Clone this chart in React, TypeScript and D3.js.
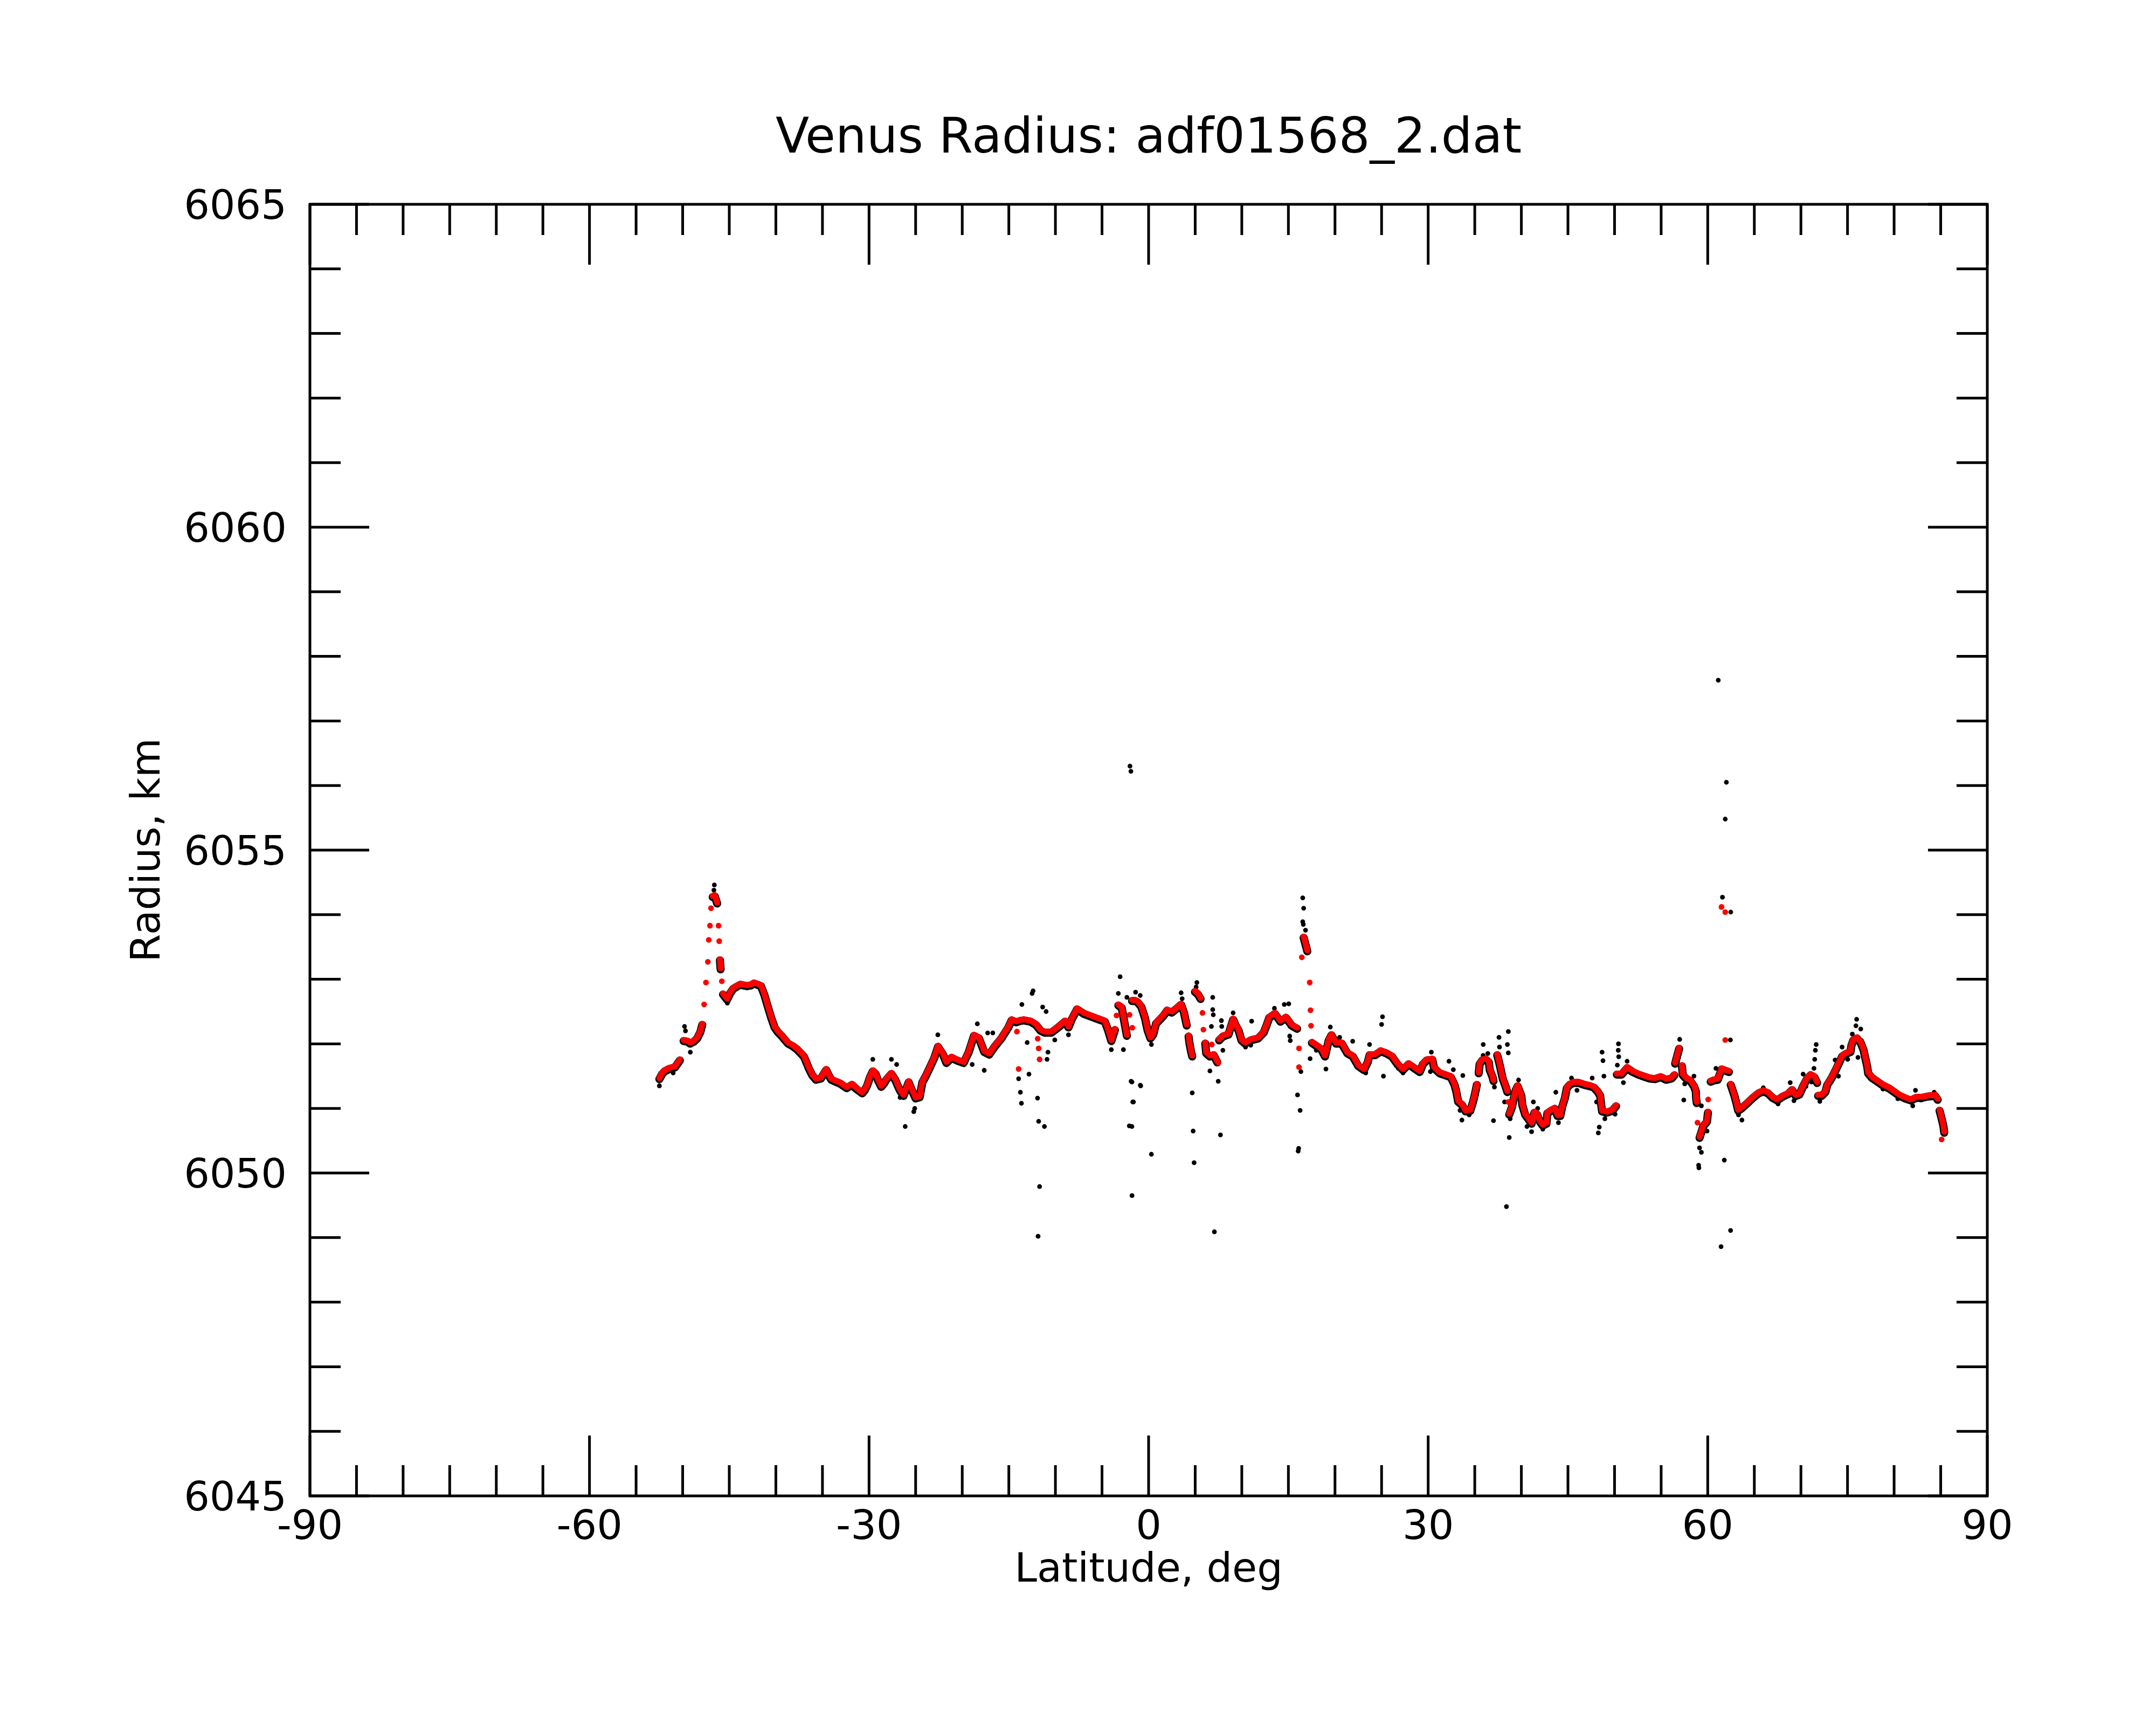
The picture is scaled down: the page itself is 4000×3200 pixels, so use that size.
import * as d3 from "d3";

// plot frame in page pixels
const W = 4000;
const H = 3200;
const M = { left: 575, right: 3687, top: 379, bottom: 2775 };

const title = "Venus Radius: adf01568_2.dat";
const xTitle = "Latitude, deg";
const yTitle = "Radius, km";
const xTickLabels = ["-90", "-60", "-30", "0", "30", "60", "90"];
const yTickLabels = ["6045", "6050", "6055", "6060", "6065"];

// smoothed radius (red), [latitude, radius km]
const smoothTrace: [number, number][] = [
  [-52.5, 6051.47], [-52.2, 6051.55], [-51.94, 6051.59], [-51.4, 6051.63], [-50.84, 6051.65],
  [-50.3, 6051.76], [-49.9, 6052.06], [-49.5, 6052.05], [-49.2, 6052.02], [-48.8, 6052.05],
  [-48.44, 6052.1], [-48.1, 6052.2], [-47.9, 6052.31], [-47.7, 6052.61], [-47.5, 6052.95],
  [-47.3, 6053.27], [-47.2, 6053.61], [-47.07, 6053.83], [-46.96, 6054.1], [-46.78, 6054.29],
  [-46.55, 6054.3], [-46.3, 6054.19], [-46.15, 6053.83], [-46.08, 6053.59], [-46.0, 6053.31],
  [-45.93, 6053.17], [-45.8, 6052.97], [-45.67, 6052.78], [-45.23, 6052.7], [-44.9, 6052.8],
  [-44.56, 6052.87], [-44.2, 6052.9], [-43.83, 6052.93], [-43.09, 6052.91], [-42.7, 6052.92],
  [-42.35, 6052.95], [-41.6, 6052.91], [-41.25, 6052.78], [-40.9, 6052.61], [-40.5, 6052.42],
  [-40.14, 6052.27], [-39.8, 6052.2], [-39.4, 6052.14], [-38.7, 6052.02], [-38.2, 6051.98],
  [-37.74, 6051.93], [-37.0, 6051.82], [-36.7, 6051.72], [-36.45, 6051.63], [-36.1, 6051.53],
  [-35.7, 6051.46], [-35.16, 6051.48], [-34.6, 6051.61], [-34.3, 6051.52], [-34.05, 6051.46],
  [-33.6, 6051.43], [-33.1, 6051.4], [-32.4, 6051.33], [-31.84, 6051.38], [-31.3, 6051.31],
  [-30.73, 6051.25], [-30.45, 6051.3], [-30.18, 6051.38], [-29.9, 6051.5], [-29.6, 6051.59],
  [-29.3, 6051.55], [-29.07, 6051.46], [-28.7, 6051.35], [-28.4, 6051.4], [-28.15, 6051.46],
  [-27.6, 6051.55], [-27.2, 6051.46], [-26.9, 6051.36], [-26.67, 6051.29], [-26.3, 6051.21],
  [-25.75, 6051.42], [-25.38, 6051.29], [-25.0, 6051.17], [-24.57, 6051.19], [-24.28, 6051.42],
  [-23.9, 6051.52], [-23.54, 6051.63], [-22.99, 6051.8], [-22.6, 6051.97], [-22.06, 6051.85],
  [-21.7, 6051.72], [-21.14, 6051.8], [-20.6, 6051.76], [-19.85, 6051.72], [-19.3, 6051.89],
  [-18.74, 6052.14], [-18.2, 6052.1], [-17.64, 6051.89], [-17.1, 6051.85], [-16.53, 6051.97],
  [-15.8, 6052.1], [-15.05, 6052.27], [-14.7, 6052.38], [-14.2, 6052.35], [-13.8, 6052.37],
  [-13.4, 6052.38], [-12.66, 6052.36], [-12.1, 6052.31], [-11.6, 6052.22], [-11.18, 6052.19],
  [-10.44, 6052.19], [-9.7, 6052.27], [-8.97, 6052.36], [-8.6, 6052.27], [-8.23, 6052.4],
  [-7.68, 6052.55], [-6.94, 6052.48], [-6.2, 6052.44], [-5.46, 6052.4], [-4.7, 6052.36],
  [-4.36, 6052.23], [-4.0, 6052.06], [-3.62, 6052.23], [-3.44, 6052.44], [-3.25, 6052.61],
  [-2.88, 6052.57], [-2.6, 6052.35], [-2.33, 6052.14], [-2.05, 6052.45], [-1.78, 6052.68],
  [-1.45, 6052.68], [-1.19, 6052.66], [-0.79, 6052.59], [-0.4, 6052.42], [-0.1, 6052.22],
  [0.2, 6052.1], [0.5, 6052.16], [0.8, 6052.33], [1.2, 6052.39], [1.6, 6052.45],
  [1.99, 6052.53], [2.49, 6052.5], [2.99, 6052.56], [3.49, 6052.62], [3.79, 6052.5],
  [4.09, 6052.3], [4.29, 6052.13], [4.39, 6052.02], [4.55, 6051.9], [4.68, 6051.82],
  [4.98, 6052.82], [5.3, 6052.78], [5.58, 6052.71], [5.78, 6052.48], [5.88, 6052.22],
  [6.08, 6052.02], [6.18, 6051.87], [6.58, 6051.82], [6.98, 6051.84], [7.37, 6051.73],
  [7.57, 6052.07], [7.97, 6052.13], [8.57, 6052.16], [9.07, 6052.39], [9.35, 6052.3],
  [9.66, 6052.22], [9.96, 6052.07], [10.36, 6052.02], [10.96, 6052.07], [11.76, 6052.1],
  [12.35, 6052.19], [12.65, 6052.3], [12.95, 6052.42], [13.55, 6052.48], [14.15, 6052.36],
  [14.74, 6052.42], [15.34, 6052.3], [15.94, 6052.25], [16.44, 6053.34], [16.64, 6053.66],
  [17.03, 6053.45], [17.29, 6052.95], [17.37, 6052.52], [17.43, 6052.28], [17.53, 6052.03],
  [17.93, 6051.99], [18.53, 6051.93], [18.93, 6051.82], [19.33, 6052.07], [19.62, 6052.15],
  [20.12, 6052.02], [20.72, 6052.02], [21.32, 6051.87], [21.91, 6051.82], [22.51, 6051.67],
  [23.11, 6051.61], [23.51, 6051.73], [23.71, 6051.84], [24.3, 6051.84], [24.9, 6051.9],
  [25.5, 6051.87], [26.1, 6051.82], [26.7, 6051.7], [27.29, 6051.61], [27.89, 6051.7],
  [28.49, 6051.64], [29.09, 6051.58], [29.44, 6051.7], [29.84, 6051.76], [30.44, 6051.77],
  [30.64, 6051.64], [31.23, 6051.56], [31.83, 6051.53], [32.43, 6051.5], [32.83, 6051.38],
  [33.03, 6051.27], [33.22, 6051.12], [33.62, 6051.07], [34.02, 6050.97], [34.52, 6050.98],
  [34.82, 6051.12], [35.02, 6051.24], [35.22, 6051.38], [35.42, 6051.56], [35.52, 6051.7],
  [35.81, 6051.76], [36.21, 6051.77], [36.51, 6051.73], [36.61, 6051.61], [36.91, 6051.5],
  [37.01, 6051.44], [37.41, 6051.84], [37.61, 6051.73], [38.01, 6051.47], [38.25, 6051.38],
  [38.5, 6051.27], [38.6, 6051.1], [38.7, 6050.92], [39.0, 6051.04], [39.2, 6051.18],
  [39.4, 6051.3], [39.6, 6051.36], [40.0, 6051.21], [40.1, 6051.07], [40.4, 6050.92],
  [40.8, 6050.84], [41.1, 6050.78], [41.4, 6050.95], [41.69, 6050.92], [41.99, 6050.81],
  [42.29, 6050.75], [42.69, 6050.78], [42.79, 6050.94], [43.19, 6050.98], [43.58, 6051.01],
  [43.88, 6050.9], [44.18, 6050.9], [44.38, 6051.04], [44.68, 6051.18], [44.88, 6051.33],
  [45.18, 6051.38], [45.58, 6051.41], [46.17, 6051.41], [46.77, 6051.38], [47.37, 6051.36],
  [47.77, 6051.34], [48.16, 6051.28], [48.46, 6051.21], [48.56, 6051.08], [48.66, 6050.97],
  [49.16, 6050.95], [49.76, 6050.98], [50.16, 6051.05], [50.25, 6051.54], [50.76, 6051.54],
  [51.35, 6051.64], [51.95, 6051.58], [52.55, 6051.54], [53.14, 6051.51], [53.74, 6051.48],
  [54.34, 6051.47], [54.94, 6051.5], [55.54, 6051.46], [56.13, 6051.48], [56.43, 6051.53],
  [56.5, 6051.71], [56.93, 6051.94], [57.23, 6051.67], [57.33, 6051.53], [57.73, 6051.47],
  [58.13, 6051.44], [58.52, 6051.36], [58.72, 6051.28], [58.75, 6051.18], [58.82, 6051.1],
  [58.9, 6050.78], [59.12, 6050.56], [59.52, 6050.74], [59.92, 6050.81], [60.02, 6050.95],
  [60.05, 6051.14], [60.32, 6051.43], [60.68, 6051.45], [61.08, 6051.46], [61.48, 6051.62],
  [62.27, 6051.58], [62.47, 6051.38], [62.87, 6051.21], [63.07, 6051.1], [63.27, 6050.98],
  [63.67, 6051.02], [64.27, 6051.1], [64.86, 6051.18], [65.46, 6051.25], [65.96, 6051.28],
  [66.46, 6051.25], [66.95, 6051.18], [67.45, 6051.14], [68.05, 6051.2], [68.65, 6051.24],
  [69.05, 6051.3], [69.44, 6051.21], [69.84, 6051.23], [70.24, 6051.36], [70.64, 6051.47],
  [71.04, 6051.53], [71.44, 6051.5], [71.74, 6051.41], [71.84, 6051.21], [72.23, 6051.21],
  [72.63, 6051.27], [72.83, 6051.38], [73.23, 6051.47], [73.63, 6051.58], [74.03, 6051.7],
  [74.42, 6051.82], [74.82, 6051.86], [75.32, 6051.89], [75.42, 6051.99], [75.62, 6052.07],
  [76.02, 6052.1], [76.42, 6052.03], [76.72, 6051.92], [76.92, 6051.79], [77.12, 6051.66],
  [77.21, 6051.56], [77.61, 6051.49], [78.21, 6051.43], [78.81, 6051.37], [79.4, 6051.33],
  [80.0, 6051.27], [80.6, 6051.21], [81.2, 6051.17], [81.8, 6051.14], [82.39, 6051.18],
  [82.99, 6051.18], [83.59, 6051.2], [84.39, 6051.21], [84.68, 6051.15], [84.88, 6050.98],
  [85.08, 6050.87], [85.28, 6050.75], [85.38, 6050.64],
];

// red points lying off the main trace
const smoothStray: [number, number][] = [
  [-14.13, 6052.19], [-13.95, 6051.61], [-11.9, 6052.08], [-11.8, 6051.93], [-11.7, 6051.76],
  [-1.75, 6052.25], [6.78, 6051.99], [7.47, 6051.71], [16.14, 6051.93], [16.14, 6051.64],
  [61.48, 6054.12], [61.88, 6054.04], [61.88, 6052.06], [85.1, 6050.52],
];

// raw radius points (black) that stand apart from the smoothed trace
const rawPoints: [number, number][] = [
  [-52.5, 6051.35], [-51.02, 6051.55], [-49.8, 6052.27], [-49.7, 6052.2], [-49.18, 6051.87],
  [-46.6, 6054.46], [-46.65, 6054.38], [-45.2, 6052.63],
  [-29.6, 6051.76], [-27.6, 6051.76], [-27.04, 6051.68], [-26.67, 6051.17], [-26.12, 6050.72],
  [-25.2, 6050.95], [-25.1, 6051.0], [-22.62, 6052.14], [-18.93, 6051.68], [-18.38, 6052.31],
  [-17.64, 6051.59], [-17.27, 6052.17], [-16.72, 6052.17],
  [-13.6, 6052.61], [-12.5, 6052.78], [-12.4, 6052.82], [-13.03, 6052.02], [-13.95, 6051.46],
  [-13.76, 6051.25], [-13.65, 6051.08], [-12.84, 6051.53], [-11.92, 6051.16], [-11.8, 6050.8],
  [-11.18, 6050.72], [-11.7, 6049.79], [-11.86, 6049.02], [-10.8, 6051.87], [-10.9, 6051.76],
  [-11.37, 6052.57], [-11.0, 6052.5], [-10.07, 6052.06], [-8.6, 6052.14], [-4.0, 6051.91],
  [-3.06, 6053.04], [-3.25, 6052.78], [-2.7, 6051.91], [-1.88, 6051.42], [-1.7, 6051.1],
  [-2.07, 6050.73], [-1.78, 6049.65], [-0.85, 6051.35], [-2.0, 6056.3], [-1.9, 6056.22],
  [-2.33, 6052.72], [-1.4, 6052.8], [-0.9, 6052.75], [-1.79, 6051.41], [-0.89, 6051.36],
  [-1.63, 6051.1], [-1.79, 6050.72], [0.3, 6051.99], [0.3, 6050.29],
  [3.49, 6052.79], [3.6, 6052.7], [5.18, 6052.95], [5.1, 6052.88], [4.68, 6051.24],
  [4.78, 6050.65], [4.88, 6050.16], [6.88, 6052.72], [6.88, 6052.53], [6.94, 6052.45],
  [6.74, 6052.27], [7.81, 6052.36], [7.85, 6052.27], [7.97, 6051.9], [6.58, 6051.58],
  [7.47, 6051.42], [7.71, 6050.59], [7.06, 6049.09], [9.07, 6052.48], [11.06, 6052.35],
  [10.96, 6051.98], [10.4, 6051.95], [13.5, 6052.55], [14.56, 6052.61], [15.04, 6052.62],
  [15.14, 6052.12], [15.2, 6052.05], [16.54, 6054.26], [16.64, 6054.1], [16.54, 6053.89],
  [16.6, 6053.85], [16.84, 6053.76], [15.98, 6051.21], [16.26, 6050.97], [16.1, 6050.38],
  [16.05, 6050.34], [16.34, 6051.57], [17.33, 6051.77], [18.0, 6051.9], [19.03, 6051.61],
  [19.5, 6052.26], [21.9, 6052.04], [20.5, 6052.1], [23.3, 6051.55], [23.71, 6051.99],
  [25.1, 6052.42], [25.0, 6052.3], [25.2, 6051.5], [26.8, 6051.62], [27.3, 6051.55],
  [29.4, 6051.6],
  [30.34, 6051.87], [30.24, 6051.57], [32.23, 6051.73], [32.7, 6051.6], [33.72, 6051.51],
  [33.62, 6050.82], [33.42, 6050.97], [34.4, 6050.9], [35.91, 6051.99], [35.9, 6051.82],
  [36.4, 6051.85], [37.6, 6052.1], [37.65, 6051.95], [38.6, 6052.19], [38.5, 6051.99],
  [38.6, 6051.86], [37.01, 6050.81], [37.11, 6051.33], [38.7, 6050.55], [38.4, 6049.48],
  [38.2, 6051.1], [39.7, 6051.44], [38.8, 6050.84], [40.6, 6050.72], [41.1, 6050.64],
  [42.3, 6050.68], [41.29, 6051.1], [41.75, 6051.0], [43.7, 6051.25], [43.98, 6050.78],
  [45.38, 6051.47], [45.97, 6051.28], [47.6, 6051.47], [48.66, 6051.87], [48.76, 6051.74],
  [48.86, 6051.5], [48.36, 6050.71], [48.26, 6050.62], [48.07, 6051.1], [48.96, 6050.84],
  [50.06, 6050.91], [50.42, 6052.0], [50.4, 6051.9], [50.45, 6051.8], [50.95, 6051.4],
  [50.3, 6051.67], [51.35, 6051.73], [56.99, 6052.07], [57.43, 6051.13], [57.53, 6051.38],
  [58.52, 6051.5], [59.32, 6051.04], [59.12, 6050.39], [59.32, 6050.32], [59.02, 6050.12],
  [59.05, 6050.08], [59.92, 6050.65], [59.7, 6050.75],
  [61.58, 6054.27], [62.47, 6054.04], [62.43, 6052.06], [60.88, 6051.62], [61.9, 6051.6],
  [61.78, 6050.2], [61.13, 6057.63], [62.0, 6056.05], [61.88, 6055.48], [62.45, 6049.11],
  [61.43, 6048.86], [63.67, 6050.82], [63.3, 6050.9], [65.96, 6051.32], [67.55, 6051.07],
  [68.85, 6051.4], [69.25, 6051.12], [70.24, 6051.53], [70.54, 6051.34], [71.64, 6051.99],
  [71.55, 6051.9], [71.48, 6051.76], [71.4, 6051.62], [71.14, 6051.41], [72.03, 6051.11],
  [73.67, 6051.75], [73.43, 6051.56], [74.03, 6051.5], [74.42, 6051.95], [75.02, 6051.76],
  [75.98, 6052.38], [75.9, 6052.28], [76.42, 6052.23], [75.52, 6052.15], [76.12, 6051.79],
  [76.5, 6052.05], [78.8, 6051.3], [80.4, 6051.15], [82.0, 6051.04], [82.29, 6051.28],
  [82.89, 6051.13], [84.3, 6051.25], [85.48, 6050.61],
];

const FONT = "DejaVu Sans, sans-serif";

export default function App() {
  const x = d3.scaleLinear().domain([-90, 90]).range([M.left, M.right]);
  const y = d3.scaleLinear().domain([6045, 6065]).range([M.bottom, M.top]);

  const xTicks = d3.range(-90, 91, 5);
  const yTicks = d3.range(6045, 6066, 1);

  // split the smoothed trace where samples jump (steep or far apart)
  const pts = smoothTrace.map(([la, r]) => [x(la), y(r)] as [number, number]);
  const segs: [number, number][][] = [];
  pts.forEach((p, i) => {
    const prev = pts[i - 1];
    const dx = prev ? Math.abs(p[0] - prev[0]) : 0;
    const dy = prev ? Math.abs(p[1] - prev[1]) : 0;
    const joined =
      prev && dx < 24 && (dy < 20 || (dy < 34 && dy < 5.5 * Math.max(dx, 0.1)));
    if (joined) segs[segs.length - 1].push(p);
    else segs.push([p]);
  });
  const lineGen = d3.line<[number, number]>();
  const lines = segs.filter((s) => s.length > 1);

  return (
    <svg
      width={W}
      height={H}
      viewBox={`0 0 ${W} ${H}`}
      style={{ position: "absolute", left: 0, top: 0, background: "#fff" }}
      fontFamily={FONT}
    >
      <rect width={W} height={H} fill="#fff" />

      {/* raw data underneath */}
      <g transform="translate(0,2)">
        {lines.map((s, i) => (
          <path
            key={i}
            d={lineGen(s) || ""}
            fill="none"
            stroke="#000"
            strokeWidth={15}
            strokeLinejoin="round"
            strokeLinecap="round"
          />
        ))}
      </g>
      {rawPoints.map(([la, r], i) => (
        <circle key={i} cx={x(la)} cy={y(r)} r={4.4} fill="#000" />
      ))}

      {/* smoothed data */}
      {lines.map((s, i) => (
        <path
          key={i}
          d={lineGen(s) || ""}
          fill="none"
          stroke="#ff0000"
          strokeWidth={11}
          strokeLinejoin="round"
          strokeLinecap="round"
        />
      ))}
      {smoothTrace.concat(smoothStray).map(([la, r], i) => (
        <circle key={i} cx={x(la)} cy={y(r)} r={5.3} fill="#ff0000" />
      ))}

      {/* frame and ticks */}
      <g stroke="#000" strokeWidth={5} fill="none">
        <rect x={M.left} y={M.top} width={M.right - M.left} height={M.bottom - M.top} />
        {xTicks.map((v) => {
          const len = v % 30 === 0 ? 112 : 57;
          return (
            <g key={v}>
              <line x1={x(v)} x2={x(v)} y1={M.bottom} y2={M.bottom - len} />
              <line x1={x(v)} x2={x(v)} y1={M.top} y2={M.top + len} />
            </g>
          );
        })}
        {yTicks.map((v) => {
          const len = v % 5 === 0 ? 110 : 57;
          return (
            <g key={v}>
              <line x1={M.left} x2={M.left + len} y1={y(v)} y2={y(v)} />
              <line x1={M.right} x2={M.right - len} y1={y(v)} y2={y(v)} />
            </g>
          );
        })}
      </g>

      {xTickLabels.map((t) => (
        <text key={t} x={x(+t)} y={2855} fontSize={75} textAnchor="middle" fill="#000">
          {t}
        </text>
      ))}
      {yTickLabels.map((t) => (
        <text key={t} x={532} y={y(+t) + 27} fontSize={75} textAnchor="end" fill="#000">
          {t}
        </text>
      ))}

      <text x={(M.left + M.right) / 2} y={283} fontSize={91} textAnchor="middle" fill="#000">
        {title}
      </text>
      <text x={(M.left + M.right) / 2} y={2934} fontSize={75} textAnchor="middle" fill="#000">
        {xTitle}
      </text>
      <text
        transform={`translate(296,${(M.top + M.bottom) / 2}) rotate(-90)`}
        fontSize={75}
        textAnchor="middle"
        fill="#000"
      >
        {yTitle}
      </text>
    </svg>
  );
}
